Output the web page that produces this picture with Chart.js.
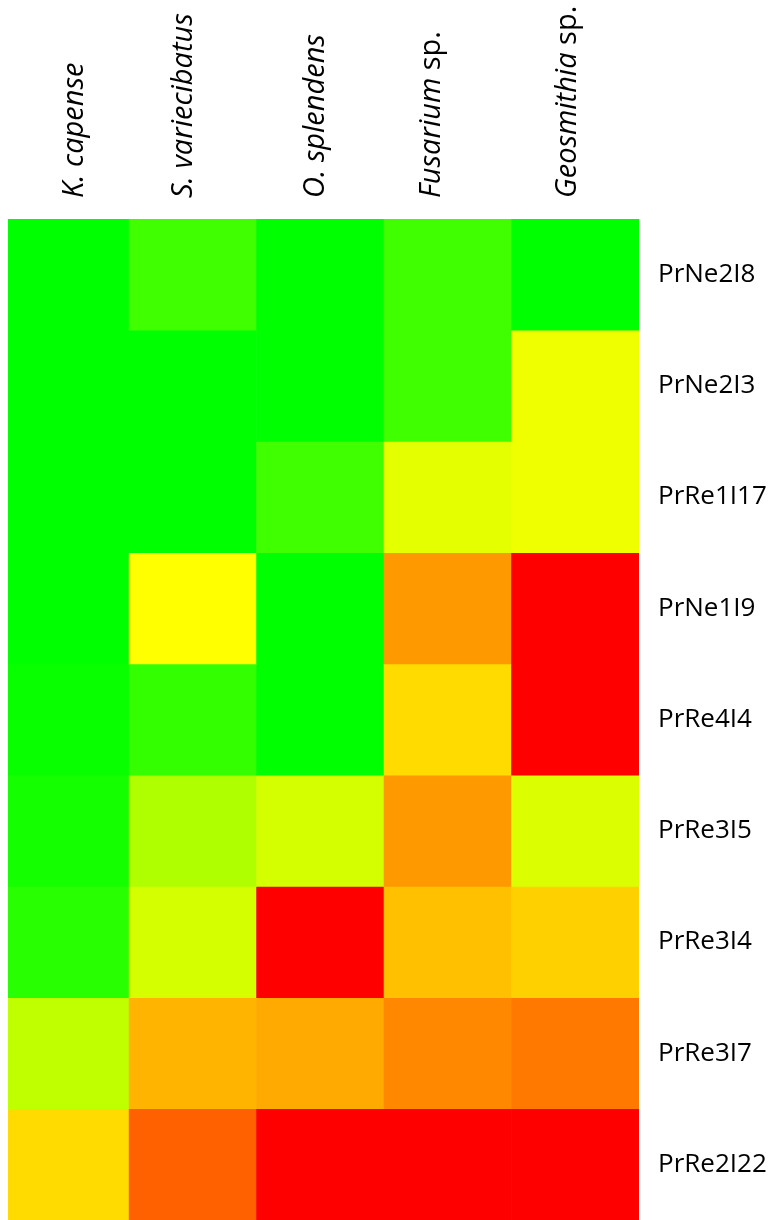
<!DOCTYPE html>
<html>
<head>
<meta charset="utf-8">
<title>Heatmap</title>
<script src="https://cdn.jsdelivr.net/npm/chart.js@4.4.1/dist/chart.umd.min.js"></script>
<style>
  html, body { margin: 0; padding: 0; background: #fff; }
  #wrap { position: relative; width: 776px; height: 1220px; }
</style>
</head>
<body>
<div id="wrap"><canvas id="heat"></canvas></div>
<script>
/* ── DATA ─────────────────────────────────────────────── */
// columns, each label split into [text, italic] parts
const species = [
  [['K. capense', true]],
  [['S. variecibatus', true]],
  [['O. splendens', true]],
  [['Fusarium', true], [' sp.', false]],
  [['Geosmithia', true], [' sp.', false]]
];

const isolates = ['PrNe2I8','PrNe2I3','PrRe1I17','PrNe1I9','PrRe4I4','PrRe3I5','PrRe3I4','PrRe3I7','PrRe2I22'];

// 0 = green, 50 = yellow, 100 = red (one row per isolate)
const rowPrNe2I8  = [0,   12.5, 0,    12.5, 0];
const rowPrNe2I3  = [0,   0,    0,    12.5, 47];
const rowPrRe1I17 = [0,   0,    12.5, 44.7, 47];
const rowPrNe1I9  = [0,   50,   0,    70,   100];
const rowPrRe4I4  = [1.5, 10,   0,    57,   100];
const rowPrRe3I5  = [4,   34.5, 41.6, 70,   43];
const rowPrRe3I4  = [7.8, 41.6, 100,  62.4, 59.2];
const rowPrRe3I7  = [37.6,64.7, 66.7, 73.3, 76.5];
const rowPrRe2I22 = [57,  81.2, 100,  100,  100];

const rows = [rowPrNe2I8, rowPrNe2I3, rowPrRe1I17, rowPrNe1I9, rowPrRe4I4,
              rowPrRe3I5, rowPrRe3I4, rowPrRe3I7, rowPrRe2I22];

/* ── COLOUR SCALE green → yellow → red ────────────────── */
function heatColor(v) {
  const t = Math.max(0, Math.min(100, v)) / 50;
  const r = t <= 1 ? Math.round(255 * t) : 255;
  const g = t <= 1 ? 255 : Math.round(255 * (2 - t));
  return `rgb(${r},${g},0)`;
}

/* ── COLUMN LABELS (mixed italic, rotated) ────────────── */
const FONT = '"Open Sans", sans-serif';
const labelNudge = [14, -1, 4, -8, 1];   // hand placement, px from cell centre
const colLabels = {
  id: 'colLabels',
  afterDraw(chart) {
    const ctx = chart.ctx;
    const xs  = chart.scales.x;
    const ca  = chart.chartArea;
    ctx.save();
    ctx.fillStyle = '#000';
    ctx.textBaseline = 'alphabetic';
    ctx.textAlign = 'left';
    species.forEach((parts, i) => {
      const l  = Math.max(ca.left, xs.getPixelForValue(i - 0.5));
      const r  = Math.min(ca.right, xs.getPixelForValue(i + 0.5));
      const bx = (l + r) / 2 + labelNudge[i];
      ctx.save();
      ctx.translate(bx, 198);
      ctx.rotate(-Math.PI / 2);
      let off = 0;
      parts.forEach(([txt, it]) => {
        ctx.font = `${it ? 'italic ' : ''}29px ${FONT}`;
        ctx.fillText(txt, off, 0);
        off += ctx.measureText(txt).width;
      });
      ctx.restore();
    });
    ctx.restore();
  }
};

/* ── CHART ────────────────────────────────────────────── */
const datasets = rows.map((vals, r) => ({
  label: isolates[r],
  data: vals.map((v, c) => ({ x: c, y: 1 })),
  backgroundColor: vals.map(heatColor),
  borderWidth: 0,
  barPercentage: 1,
  categoryPercentage: 1
}));

new Chart(document.getElementById('heat'), {
  type: 'bar',
  data: { datasets },
  options: {
    responsive: true,
    maintainAspectRatio: false,
    animation: false,
    layout: { padding: { left: 8, top: 219, right: 0, bottom: 0 } },
    plugins: { legend: { display: false }, tooltip: { enabled: false } },
    scales: {
      x: {
        type: 'linear',
        stacked: true,
        offset: false,
        min: -0.45,
        max: 4.5,
        display: false,
        afterBuildTicks: axis => { axis.ticks = species.map((_, i) => ({ value: i })); }
      },
      y: {
        type: 'linear',
        stacked: true,
        position: 'right',
        reverse: true,
        min: 0,
        max: 9,
        grid: { display: false, drawTicks: false },
        border: { display: false },
        afterBuildTicks: axis => { axis.ticks = isolates.map((_, i) => ({ value: i + 0.5 })); },
        afterFit: axis => {
          axis.width = 137;
          axis.paddingTop = 0;
          axis.paddingBottom = 0;
        },
        ticks: {
          padding: 19,
          color: '#000',
          font: { family: FONT, size: 26 },
          callback: v => isolates[Math.floor(v)]
        }
      }
    }
  },
  plugins: [colLabels]
});
</script>
</body>
</html>
